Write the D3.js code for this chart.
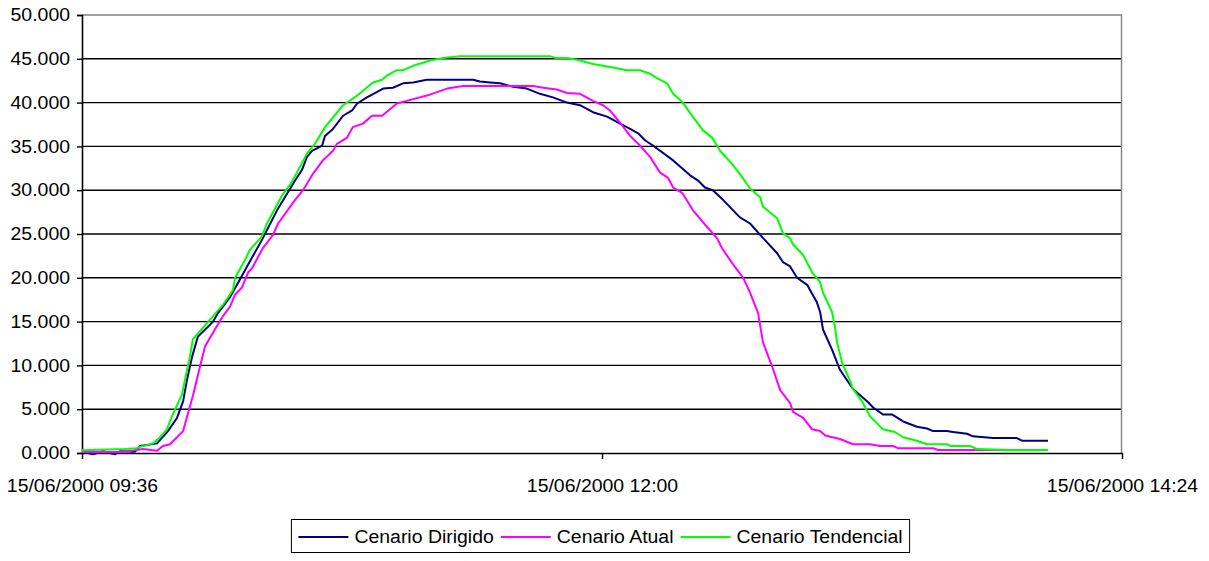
<!DOCTYPE html>
<html><head><meta charset="utf-8">
<script src="https://cdn.jsdelivr.net/npm/d3@7"></script>
<style>
html,body{margin:0;padding:0;background:#fff;}
text{font-family:"Liberation Sans",Arial,sans-serif;}
</style></head>
<body><svg id="chart" width="1209" height="561"></svg>
<script>
// ---- data (minutes after 15/06/2000 09:36; values in axis units) ----
const seriesNames = ["Cenario Dirigido", "Cenario Atual", "Cenario Tendencial"];
const seriesColors = ["#000080", "#FF00FF", "#00FF00"];
const yTicks = [0, 5, 10, 15, 20, 25, 30, 35, 40, 45, 50];
const xTickLabels = ["15/06/2000 09:36", "15/06/2000 12:00", "15/06/2000 14:24"];

const dirigidoMinutes = [0,3.0,5.8,9.1,10.5,14.7,16.1,20.8,23.8,26.3,28.0,29.1,30.5,32.1,34.6,36.3,37.7,41.0,43.2,45.7,49.8,54.0,56.2,59.0,60.9,62.3,63.7,66.5,67.3,69.5,72.3,74.8,76.2,78.9,83.4,86.1,88.9,91.7,95.5,108.3,110.2,113.0,115.8,119.4,123.2,126.8,130.4,134.3,137.9,141.5,145.4,149.0,151.8,154.0,155.9,158.1,163.7,168.4,170.6,172.5,174.7,177.5,182.2,185.0,187.8,192.5,194.1,196.1,198.0,200.8,203.5,204.4,205.2,207.7,209.9,213.5,217.4,219.1,221.8,224.3,227.4,231.2,234.0,235.7,239.5,241.2,245.1,246.7,252.3,258.9,260.3,267.5];
const dirigidoValues  = [0.2,-0.15,0.2,-0.15,0.2,0.15,0.8,1.1,2.5,4.0,5.9,8.4,11.0,13.3,14.3,15.0,16.0,17.8,19.4,21.3,24.3,27.7,29.2,31.1,32.3,33.8,34.5,35.1,36.2,37.0,38.5,39.1,39.9,40.6,41.6,41.7,42.2,42.3,42.6,42.6,42.4,42.3,42.2,41.8,41.6,41.0,40.6,40.0,39.7,38.9,38.4,37.6,37.0,36.5,35.7,35.1,33.4,31.7,31.1,30.3,30.0,28.9,26.9,26.2,24.9,22.8,21.8,21.3,20.0,19.2,17.2,16.1,14.1,11.8,9.5,7.3,5.9,5.2,4.4,4.4,3.6,3.0,2.8,2.5,2.5,2.4,2.2,1.9,1.7,1.7,1.4,1.4];

const atualMinutes = [0,11.1,16.9,20.8,22.4,24.4,28.0,29.4,30.7,32.7,34.1,36.8,39.0,41.0,42.4,44.3,46.0,47.1,50.1,52.9,54.3,59.0,61.2,64.0,66.7,69.5,70.6,73.4,75.0,77.8,80.3,83.1,87.2,91.7,95.5,101.1,105.5,124.9,127.7,131.5,134.3,137.9,141.5,144.3,146.2,149.0,151.8,154.5,157.3,160.1,162.3,163.7,166.2,169.2,173.1,175.9,177.2,180.0,183.1,185.0,187.2,188.6,191.1,193.3,196.1,196.9,199.7,202.2,204.4,205.8,209.9,213.5,218.2,221.0,224.6,226.0,235.7,237.1,267.5];
const atualValues  = [0.1,0.1,0.45,0.25,0.8,1.0,2.5,4.6,6.5,9.9,12.2,14.1,15.6,16.7,18.1,18.9,20.6,21.1,23.4,24.9,26.2,28.9,30.0,31.9,33.4,34.5,35.3,36.0,37.2,37.6,38.5,38.5,39.9,40.4,40.8,41.6,41.9,41.9,41.7,41.5,41.1,41.0,40.2,39.7,39.1,37.7,36.2,35.1,33.8,32.0,31.4,30.3,29.7,27.7,25.8,24.5,23.4,21.7,20.0,18.3,16.0,12.6,9.9,7.2,5.7,4.7,4.0,2.7,2.5,2.0,1.6,1.0,1.0,0.8,0.8,0.55,0.55,0.35,0.35];

const tendencialMinutes = [0,11.9,15.2,16.1,19.7,21.6,23.5,25.2,25.8,27.7,29.1,29.9,30.7,33.5,35.4,39.0,41.8,42.4,45.1,46.5,49.8,51.2,55.4,57.6,59.5,62.3,64.5,67.3,69.5,72.3,76.2,80.6,83.1,84.5,87.2,88.9,91.7,96.4,100.0,104.7,129.6,131.0,134.3,137.1,141.5,147.0,150.9,154.5,157.3,159.2,162.0,163.7,166.4,168.4,172.0,174.5,176.7,180.0,182.8,185.0,187.8,188.6,192.5,194.1,196.1,196.9,199.7,202.2,204.4,205.2,207.7,208.5,209.1,210.5,212.7,213.5,216.0,218.2,221.8,225.1,227.4,231.2,234.0,239.5,240.4,245.9,247.9,256.2,267.5];
const tendencialValues  = [0.3,0.45,0.55,0.7,1.1,1.8,2.7,4.5,5.0,6.7,9.5,11.0,13.0,14.3,15.2,16.9,18.6,20.0,22.0,23.2,24.7,26.2,29.4,30.6,32.0,34.2,35.3,37.2,38.3,39.7,40.8,42.3,42.6,43.1,43.7,43.7,44.2,44.8,45.1,45.3,45.3,45.1,45.1,44.9,44.4,44.0,43.7,43.7,43.3,42.8,42.2,41.0,40.0,38.8,36.8,36.0,34.5,33.0,31.5,30.2,29.2,28.1,26.8,25.1,24.5,23.8,22.6,20.6,19.5,18.3,16.1,14.4,12.6,10.3,8.2,7.3,5.9,4.2,2.7,2.4,1.8,1.4,1.0,1.0,0.8,0.8,0.45,0.35,0.35];

// ---- build ----
const start = new Date(2000, 5, 15, 9, 36);
const toDate = m => new Date(start.getTime() + m * 60000);
const seriesMinutes = [dirigidoMinutes, atualMinutes, tendencialMinutes];
const seriesValues = [dirigidoValues, atualValues, tendencialValues];

const svg = d3.select("#chart");
const L = 82, R = 1122, T = 15, B = 453;
const x = d3.scaleTime().domain([start, toDate(288)]).range([L, R]);
const y = d3.scaleLinear().domain([0, 50]).range([B, T]);
const FS = 18;
const STRETCH = 1.08;
function stretch(sel) {
  sel.each(function () {
    const w = this.getComputedTextLength();
    d3.select(this).attr("textLength", w * STRETCH).attr("lengthAdjust", "spacingAndGlyphs");
  });
}

// gridlines
svg.append("g").selectAll("line").data(yTicks.filter(v => v > 0)).join("line")
  .attr("x1", L).attr("x2", R).attr("y1", d => y(d)).attr("y2", d => y(d))
  .attr("stroke", d => d === 50 ? "#808080" : "#000").attr("stroke-width", 1.4);
// right border
svg.append("line").attr("x1", R - 0.5).attr("x2", R - 0.5).attr("y1", T).attr("y2", B)
  .attr("stroke", "#808080").attr("stroke-width", 1.4);

// y axis
const yAxis = d3.axisLeft(y).tickValues(yTicks).tickFormat(d3.format(".3f")).tickSize(5).tickPadding(7);
const gy = svg.append("g").attr("transform", `translate(${L},0)`).call(yAxis);
gy.select(".domain").attr("stroke", "#000").attr("stroke-width", 1.6);
gy.selectAll(".tick line").attr("stroke", "#000").attr("stroke-width", 1.4);
gy.selectAll(".tick text").attr("font-size", FS).attr("fill", "#000")
  .attr("font-family", "Liberation Sans, Arial, sans-serif").call(stretch);

// x axis
const xTickDates = [toDate(0), toDate(144), toDate(288)];
const fmt = d3.timeFormat("%d/%m/%Y %H:%M");
const xAxis = d3.axisBottom(x).tickValues(xTickDates).tickFormat((d, i) => xTickLabels[i] || fmt(d)).tickSize(6).tickSizeOuter(0).tickPadding(20);
const gx = svg.append("g").attr("transform", `translate(0,${B})`).call(xAxis);
gx.select(".domain").attr("stroke", "#000").attr("stroke-width", 1.6);
gx.selectAll(".tick line").attr("stroke", "#000").attr("stroke-width", 1.4);
gx.selectAll(".tick text").attr("font-size", FS).attr("fill", "#000")
  .attr("font-family", "Liberation Sans, Arial, sans-serif").call(stretch);

// lines
const line = d3.line().x(d => x(d[0])).y(d => y(d[1]));
seriesNames.forEach((name, i) => {
  const pts = d3.zip(seriesMinutes[i].map(toDate), seriesValues[i]);
  svg.append("path").datum(pts).attr("d", line)
    .attr("fill", "none").attr("stroke", seriesColors[i]).attr("stroke-width", 2)
    .attr("stroke-linejoin", "round");
});

// legend
const lg = svg.append("g");
const legY = 537;
let cx = 0;
seriesNames.forEach((name, i) => {
  const g = lg.append("g");
  g.append("line").attr("x1", cx).attr("x2", cx + 50).attr("y1", legY).attr("y2", legY)
    .attr("stroke", seriesColors[i]).attr("stroke-width", 2);
  const t = g.append("text").attr("x", cx + 56).attr("y", legY + 6).attr("font-size", FS)
    .attr("fill", "#000").text(name);
  const w = t.node().getComputedTextLength() * STRETCH;
  t.attr("textLength", w).attr("lengthAdjust", "spacingAndGlyphs");
  cx += 56 + w + 7;
});
const contentW = cx - 7;
const boxPad = 7;
const boxW = contentW + boxPad * 2;
const boxX = 600.5 - boxW / 2;
lg.insert("rect", ":first-child").attr("x", -boxPad).attr("y", 520 - 0.5).attr("width", boxW).attr("height", 33)
  .attr("fill", "#fff").attr("stroke", "#000").attr("stroke-width", 1);
lg.attr("transform", `translate(${boxX + boxPad},0)`);
</script></body></html>
